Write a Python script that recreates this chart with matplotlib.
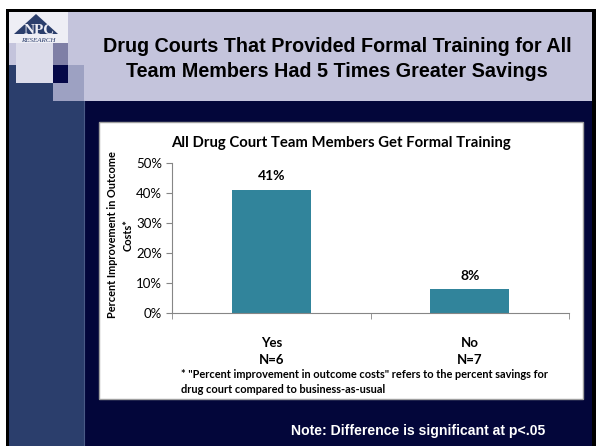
import matplotlib.pyplot as plt
from matplotlib.patches import Rectangle, Polygon

# data
categories = ["Yes\nN=6", "No\nN=7"]
values = [0.41, 0.08]
value_labels = ["41%", "8%"]
yticks = [0, 0.1, 0.2, 0.3, 0.4, 0.5]

W, H = 596, 446
navy = "#03063a"
blue = "#2b3e6c"
lav = "#c4c4dc"
teal = "#31849b"

fig = plt.figure(figsize=(W / 100, H / 100), dpi=100)
fig.patch.set_facecolor("white")

# slide background drawn in pixel coords
bg = fig.add_axes([0, 0, 1, 1])
bg.set_xlim(0, W)
bg.set_ylim(H, 0)
bg.axis("off")


def box(x0, y0, x1, y1, c, **kw):
    bg.add_patch(Rectangle((x0, y0), x1 - x0, y1 - y0, facecolor=c, edgecolor="none", **kw))


box(6, 9, W, H, "black")
box(9, 12, 592, H, navy)
box(68, 12, 592, 101, lav)
box(9, 12, 68, 43, "#eeeef5")
box(9, 43, 16, 65, lav)
box(16, 43, 53, 83, "#dcdcea")
box(53, 43, 68, 65, "#7f7fa6")
box(53, 65, 68, 83, "#050848")
box(9, 65, 16, H, blue)
box(16, 83, 53, H, blue)
box(53, 83, 84, H, blue)
box(53, 83, 84, 101, "#9da1c2")
box(68, 65, 84, 83, "#9da1c2")
bg.plot([84, 84], [101, H], color="#4a5a86", lw=0.8)
# logo
bg.add_patch(Polygon([(14, 34), (36, 14), (58, 34)], closed=True, facecolor="#2b3e6c", edgecolor="none"))
bg.text(39, 30, "NPC", ha="center", va="center", fontsize=11, family="Liberation Serif",
        color="#eeeef5", fontweight="bold")
bg.text(38, 40, "RESEARCH", ha="center", va="center", fontsize=5, family="Liberation Serif",
        color="#2b3e6c", style="italic")

# header title
bg.text(337, 59, "Drug Courts That Provided Formal Training for All\nTeam Members Had 5 Times Greater Savings",
        ha="center", va="center", fontsize=14.2, fontweight="bold", family="Liberation Sans",
        color="black", linespacing=1.4)

# white chart box
bg.add_patch(Rectangle((99, 122), 484, 277, facecolor="white", edgecolor="#a0a0a0", lw=1))

bg.text(341, 143, "All Drug Court Team Members Get Formal Training", ha="center", va="center",
        fontsize=10.7, fontweight="bold", family="Lato")
bg.text(181, 382, "* \"Percent improvement in outcome costs\" refers to the percent savings for\ndrug court compared to business-as-usual",
        ha="left", va="center", fontsize=7.9, fontweight="bold", family="Lato", linespacing=1.35)
bg.text(120, 235, "Percent Improvement in Outcome\nCosts*", ha="center", va="center", rotation=90,
        fontsize=7.9, fontweight="bold", family="Lato", linespacing=1.5)
bg.text(545, 431, "Note: Difference is significant at p<.05", ha="right", va="center",
        fontsize=10.1, fontweight="bold", family="Liberation Sans", color="white")

# chart
ax = fig.add_axes([172 / W, 1 - 313 / H, (569 - 172) / W, (313 - 163) / H])
x = range(len(values))
ax.bar(x, values, width=0.40, color=teal)
for xi, v, lab in zip(x, values, value_labels):
    ax.text(xi, v + 0.045, lab, ha="center", va="center", fontsize=10, fontweight="bold", family="Lato")
ax.set_xlim(-0.5, 1.5)
ax.set_ylim(0, 0.5)
ax.set_yticks(yticks)
ax.set_yticklabels([f"{int(t * 100)}%" for t in yticks], fontsize=9.5, family="Lato")
ax.set_xticks(list(x))
ax.set_xticklabels(categories, fontsize=9.5, fontweight="bold", family="Lato", linespacing=1.5)
ax.set_xticks([-0.5, 0.5, 1.5], minor=True)
ax.tick_params(axis="x", which="major", length=0, pad=17)
ax.tick_params(axis="x", which="minor", length=4, color="#868686", direction="out")
ax.tick_params(axis="y", length=4, color="#868686", pad=3)
for s in ["top", "right"]:
    ax.spines[s].set_visible(False)
for s in ["left", "bottom"]:
    ax.spines[s].set_color("#868686")
ax.set_facecolor("white")

fig.savefig("out.png", dpi=100)
